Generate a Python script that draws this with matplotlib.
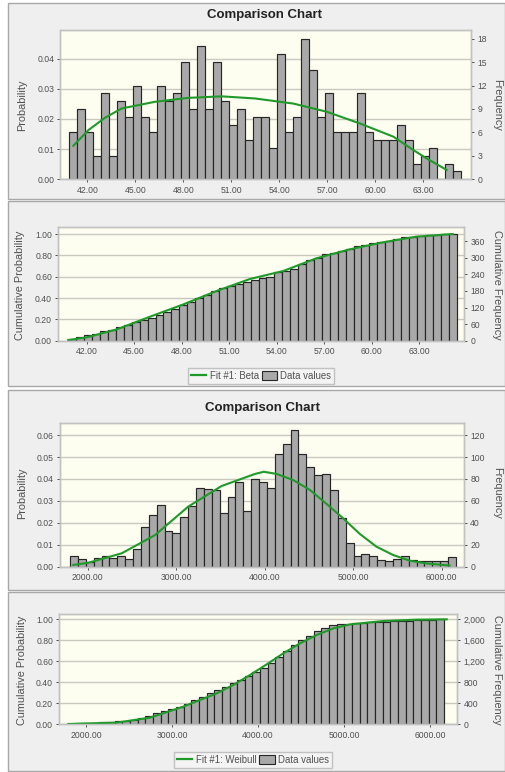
import matplotlib
matplotlib.use("Agg")
import matplotlib.pyplot as plt
import numpy as np
from matplotlib.patches import Rectangle, Patch
from matplotlib.lines import Line2D
from matplotlib.ticker import FormatStrFormatter, FuncFormatter

plt.rcParams['font.family'] = ['Liberation Sans', 'DejaVu Sans']

# ---------------- data: first comparison (Beta fit) ----------------
beta_bin_start = 40.85
beta_bin_width = 0.5
beta_counts = [6, 9, 6, 3, 11, 3, 10, 8, 12, 8,
               6, 12, 10, 11, 15, 9, 17, 9, 15, 10,
               7, 9, 5, 8, 8, 4, 16, 6, 8, 18,
               14, 8, 11, 6, 6, 6, 11, 6, 5, 5,
               5, 7, 5, 2, 3, 4, 0, 2, 1]
beta_fit_x = [41.12, 42.06, 43.10, 44.15, 46.23, 48.31, 50.40, 52.48,
              54.88, 56.96, 59.04, 61.14, 62.20, 63.21, 64.46]
beta_fit_pdf = [0.0111, 0.0163, 0.0204, 0.0235, 0.0257, 0.0270, 0.0275, 0.0268,
                0.0251, 0.0224, 0.0185, 0.0141, 0.0103, 0.0069, 0.0031]
beta_cdf_x = [40.84, 42.0, 43.9, 46.0, 48.1, 50.2, 52.3, 54.4, 56.5,
              58.6, 60.7, 62.8, 65.1]
beta_cdf = [0.006, 0.031, 0.106, 0.225, 0.340, 0.466, 0.578, 0.653, 0.772,
            0.856, 0.922, 0.975, 1.000]
beta_xticks = [42, 45, 48, 51, 54, 57, 60, 63]

# ---------------- data: second comparison (Weibull fit) ----------------
weib_bin_start = 1800
weib_bin_width = 89
weib_counts = [10, 7, 4, 8, 10, 8, 10, 7, 16, 36,
               47, 56, 33, 31, 45, 55, 72, 71, 70, 49,
               64, 77, 51, 80, 77, 72, 103, 112, 125, 103,
               91, 84, 85, 70, 44, 22, 10, 12, 10, 6,
               5, 7, 10, 6, 5, 5, 5, 5, 9]
weib_fit_x = [1837, 2007, 2384, 2760, 3136, 3513, 3890, 3990, 4135, 4323,
              4511, 4700, 4888, 5076, 5264, 5453, 5641, 5829, 6090]
weib_fit_pdf = [0.0008, 0.0018, 0.0061, 0.0144, 0.0274, 0.0368, 0.0423, 0.0433,
                0.0423, 0.0395, 0.0350, 0.0286, 0.0220, 0.0149, 0.0091, 0.0053,
                0.0027, 0.0015, 0.0005]
weib_cdf_x = [1794, 2357, 2744, 3131, 3520, 3713, 3907, 4101, 4294, 4488,
              4683, 4876, 5070, 5457, 5845, 6194]
weib_cdf = [0.003, 0.016, 0.063, 0.168, 0.295, 0.375, 0.470, 0.571, 0.676, 0.771,
            0.851, 0.914, 0.952, 0.984, 0.997, 1.000]
weib_xticks = [2000, 3000, 4000, 5000, 6000]

# ---------------- styling ----------------
W, H = 506, 772
GREEN = '#1f9a2a'
BAR = '#a9a9a9'
BAR_EDGE = '#262626'
PLOT_BG = '#fdfdf0'
PANEL_BG = '#efefef'
GRID = '#c9c9bf'
SPINE = '#c2c2c2'
TXT = '#505050'

fig = plt.figure(figsize=(W / 100, H / 100), dpi=100)
fig.patch.set_facecolor('white')


def px_rect(x0, y0, x1, y1):
    return [x0 / W, 1 - y1 / H, (x1 - x0) / W, (y1 - y0) / H]


def panel(x0, y0, x1, y1):
    fig.patches.append(Rectangle((x0 / W, 1 - y1 / H), (x1 - x0) / W, (y1 - y0) / H,
                                 transform=fig.transFigure, facecolor=PANEL_BG,
                                 edgecolor='#a8a8a8', linewidth=1.0, zorder=-10))


def style_axes(ax, ax2):
    ax.set_facecolor(PLOT_BG)
    for a in (ax, ax2):
        for s in a.spines.values():
            s.set_color(SPINE)
            s.set_linewidth(1.0)
        a.tick_params(colors=TXT, labelsize=6.2, length=2.5, width=0.7, pad=2)
    ax.yaxis.grid(True, color=GRID, linewidth=1.0)
    ax.set_axisbelow(True)


def side_labels(ytext_left, ytext_right, xl, xr, yc):
    fig.text(xl / W, 1 - yc / H, ytext_left, rotation=90, ha='center', va='center',
             fontsize=7.8, color=TXT)
    fig.text(xr / W, 1 - yc / H, ytext_right, rotation=270, ha='center', va='center',
             fontsize=7.8, color=TXT)


def hist_chart(rect, start, width, counts, fit_x, fit_pdf, xlim, ylim, xticks, yticks,
               rticks, xfmt):
    counts = np.asarray(counts, dtype=float)
    n = counts.sum()
    edges = start + width * np.arange(len(counts))
    ax = fig.add_axes(rect)
    ax2 = ax.twinx()
    ax.bar(edges, counts / n, width=width, align='edge', color=BAR,
           edgecolor=BAR_EDGE, linewidth=0.85, zorder=2)
    ax.plot(fit_x, fit_pdf, color=GREEN, linewidth=1.5, zorder=3)
    ax.set_xlim(*xlim)
    ax.set_ylim(*ylim)
    ax.set_xticks(xticks)
    ax.set_yticks(yticks)
    ax.xaxis.set_major_formatter(FormatStrFormatter(xfmt))
    ax.yaxis.set_major_formatter(FormatStrFormatter('%.2f'))
    ax2.set_ylim(ylim[0] * n, ylim[1] * n)
    ax2.set_yticks(rticks)
    ax2.yaxis.set_major_formatter(FuncFormatter(lambda v, p: f'{int(round(v)):,}'))
    style_axes(ax, ax2)
    return ax


def cum_chart(rect, start, width, counts, cdf_x, cdf, xlim, ymax, xticks, rticks, xfmt):
    counts = np.asarray(counts, dtype=float)
    n = counts.sum()
    cum = np.cumsum(counts) / n
    edges = start + width * np.arange(len(counts))
    ax = fig.add_axes(rect)
    ax2 = ax.twinx()
    ax.bar(edges, cum, width=width, align='edge', color=BAR,
           edgecolor=BAR_EDGE, linewidth=0.85, zorder=2)
    ax.plot(cdf_x, cdf, color=GREEN, linewidth=1.5, zorder=3)
    ax.set_xlim(*xlim)
    ax.set_ylim(0, ymax)
    ax.set_xticks(xticks)
    ax.set_yticks([0, 0.2, 0.4, 0.6, 0.8, 1.0])
    ax.xaxis.set_major_formatter(FormatStrFormatter(xfmt))
    ax.yaxis.set_major_formatter(FormatStrFormatter('%.2f'))
    ax2.set_ylim(0, ymax * n)
    ax2.set_yticks(rticks)
    ax2.yaxis.set_major_formatter(FuncFormatter(lambda v, p: f'{int(round(v)):,}'))
    style_axes(ax, ax2)
    return ax


def legend(label, cx, cy):
    handles = [Line2D([], [], color=GREEN, linewidth=1.6),
               Patch(facecolor=BAR, edgecolor=BAR_EDGE, linewidth=0.8)]
    fig.legend(handles, [label, 'Data values'], loc='center',
               bbox_to_anchor=(cx / W, 1 - cy / H), ncol=2, fontsize=6.9,
               frameon=True, fancybox=False, edgecolor='#b5b5b5', facecolor='#f6f6f6',
               handlelength=1.6, handleheight=1.0, columnspacing=0.3,
               handletextpad=0.35, borderpad=0.3, labelcolor=TXT)


# ---------------- panels ----------------
panel(8, 3, 505, 199)
panel(8, 201, 505, 386)
panel(8, 390, 505, 590)
panel(8, 592, 505, 771)

# first comparison
fig.text(265 / W, 1 - 15 / H, 'Comparison Chart', ha='center', va='center',
         fontsize=9.5, fontweight='bold', color='#222222')
hist_chart(px_rect(60.5, 30, 471, 179.3), beta_bin_start, beta_bin_width, beta_counts,
           beta_fit_x, beta_fit_pdf, (40.32, 65.98), (0, 0.0495), beta_xticks,
           [0, 0.01, 0.02, 0.03, 0.04], [0, 3, 6, 9, 12, 15, 18], '%.2f')
side_labels('Probability', 'Frequency', 22, 497, 105)

cum_chart(px_rect(58.3, 227.3, 464.3, 340.7), beta_bin_start, beta_bin_width, beta_counts,
          beta_cdf_x, beta_cdf, (40.21, 65.84), 1.063, beta_xticks,
          [0, 60, 120, 180, 240, 300, 360], '%.2f')
side_labels('Cumulative Probability', 'Cumulative Frequency', 20, 497, 285)
legend('Fit #1: Beta', 261, 376)

# second comparison
fig.text(263 / W, 1 - 408 / H, 'Comparison Chart', ha='center', va='center',
         fontsize=9.5, fontweight='bold', color='#222222')
hist_chart(px_rect(60, 423.3, 464, 566.7), weib_bin_start, weib_bin_width, weib_counts,
           weib_fit_x, weib_fit_pdf, (1687, 6252), (0, 0.0654), weib_xticks,
           [0, 0.01, 0.02, 0.03, 0.04, 0.05, 0.06], [0, 20, 40, 60, 80, 100, 120], '%.2f')
side_labels('Probability', 'Frequency', 22, 497, 493)

cum_chart(px_rect(59.3, 614.3, 457.3, 724.3), weib_bin_start, weib_bin_width, weib_counts,
          weib_cdf_x, weib_cdf, (1690, 6317), 1.048, weib_xticks,
          [0, 400, 800, 1200, 1600, 2000], '%.2f')
side_labels('Cumulative Probability', 'Cumulative Frequency', 22, 497, 670)
legend('Fit #1: Weibull', 253, 760)

fig.savefig('out.png', dpi=100, facecolor='white')
